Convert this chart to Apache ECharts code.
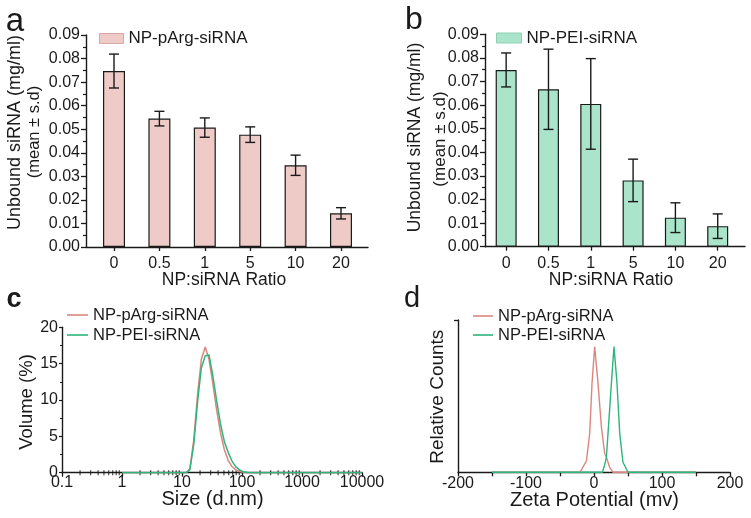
<!DOCTYPE html>
<html><head><meta charset="utf-8">
<script src="https://cdn.jsdelivr.net/npm/echarts@6/dist/echarts.min.js"></script>
<style>html,body{margin:0;padding:0;background:#fff}#c{width:751px;height:518px}</style>
</head><body><div id="c"></div>
<script>
// ---- data ----
const ratioLabels = ['0', '0.5', '1', '5', '10', '20'];
const argMean = [0.0747, 0.0545, 0.0507, 0.0477, 0.0347, 0.0143];
const argSd   = [0.0072, 0.0031, 0.0041, 0.0033, 0.0043, 0.0024];
const peiMean = [0.0749, 0.0667, 0.0605, 0.0281, 0.0123, 0.0087];
const peiSd   = [0.0072, 0.0170, 0.0192, 0.0090, 0.0063, 0.0052];

const sizeNm = [1, 10.1, 11.7, 13.5, 15.7, 18.2, 21.0, 24.4, 28.2, 32.7, 37.8, 43.8, 50.7, 58.8, 68.1, 78.8, 91.3, 105.7, 122.4, 141.8, 164.2, 10000];
const volArg = [0, 0, 0, 0.5, 4.5, 10.8, 15.6, 17.3, 15.6, 12.2, 8.6, 5.5, 3.2, 1.7, 0.85, 0.38, 0.15, 0.05, 0, 0, 0, 0];
const volPEI = [0, 0, 0, 0.4, 3.9, 9.8, 14.4, 16.1, 16.2, 13.3, 9.9, 6.7, 4.3, 2.8, 1.6, 0.8, 0.38, 0.12, 0.03, 0, 0, 0];
const sizeMinorTicks = [0.2,0.3,0.4,0.5,0.6,0.7,0.8,0.9, 2,3,4,5,6,7,8,9, 20,30,40,50,60,70,80,90, 200,300,400,500,600,700,800,900, 2000,3000,4000,5000,6000,7000,8000,9000];
const sizeTickLabels = ['0.1','1','10','100','1000','10000'];

const zetaArg   = [-150, -21, -18.5, -11.2, -6.3, -2.9, 1, 5.9, 10.9, 15.7, 18.2, 23, 28, 150];
const countArg  = [0, 0, 0.02, 0.09, 0.31, 0.71, 1.0, 0.71, 0.36, 0.15, 0.12, 0.04, 0, 0];
const zetaPEI   = [-150, 12.4, 15.7, 18.2, 20.6, 25.6, 29.4, 33.8, 37.8, 42.6, 50, 150];
const countPEI  = [0, 0, 0.06, 0.12, 0.31, 0.71, 1.0, 0.71, 0.31, 0.08, 0, 0];

const FONT = 'Liberation Sans, Arial, sans-serif';
const INK = '#1a1a1a';
const PINK = '#EECBC6', MINT = '#A9E4CB';
const RED = '#D9877E', GREEN = '#2DB57B';

const chart = echarts.init(document.getElementById('c'), null, {renderer: 'canvas'});

function errSeries(name, xi, yi, mean, sd) {
  return {
    type: 'custom', name: name + ' err', xAxisIndex: xi, yAxisIndex: yi, z: 5, silent: true,
    data: mean.map((m, i) => [i, m - sd[i], m + sd[i]]),
    encode: {x: 0, y: [1, 2]},
    renderItem: function (params, api) {
      const x = api.value(0);
      const lo = api.coord([x, api.value(1)]);
      const hi = api.coord([x, api.value(2)]);
      const w = 5;
      const st = {stroke: INK, lineWidth: 1.4};
      return {type: 'group', children: [
        {type: 'line', shape: {x1: hi[0], y1: hi[1], x2: lo[0], y2: lo[1]}, style: st},
        {type: 'line', shape: {x1: hi[0] - w, y1: hi[1], x2: hi[0] + w, y2: hi[1]}, style: st},
        {type: 'line', shape: {x1: lo[0] - w, y1: lo[1], x2: lo[0] + w, y2: lo[1]}, style: st}
      ]};
    }
  };
}

const axisLineStyle = {show: true, onZero: false, lineStyle: {color: INK, width: 1.4}};
const lbl = {color: INK, fontSize: 16, fontFamily: FONT};

function barX(min, max) {
  return {
    type: 'value', min: min, max: max, splitLine: {show: false},
    axisLine: axisLineStyle,
    axisTick: {show: true, customValues: [0,1,2,3,4,5], length: 4, lineStyle: {color: INK, width: 1.3}},
    axisLabel: Object.assign({}, lbl, {customValues: [0,1,2,3,4,5], margin: 9,
      formatter: v => ratioLabels[Math.round(v)]})
  };
}
function barY() {
  return {
    type: 'value', min: 0, max: 0.09, interval: 0.01, splitLine: {show: false},
    axisLine: axisLineStyle,
    axisTick: {show: true, length: 5, lineStyle: {color: INK, width: 1.3}},
    minorTick: {show: true, splitNumber: 2, length: 3, lineStyle: {color: INK, width: 1.2}},
    axisLabel: Object.assign({}, lbl, {margin: 6, formatter: v => v.toFixed(2)})
  };
}

function txt(text, x, y, size, rot, weight) {
  return {type: 'text', x: x, y: y, rotation: rot || 0, silent: true,
    style: {text: text, fontSize: size, fontFamily: FONT, fontWeight: weight || 'normal', fill: INK,
      align: 'center', verticalAlign: 'middle'}};
}

const option = {
  animation: false,
  backgroundColor: '#fff',
  grid: [
    {left: 86, top: 35, width: 282, height: 212},
    {left: 485, top: 34.3, width: 260, height: 212.4},
    {left: 62, top: 327.3, width: 300, height: 145.4},
    {left: 458, top: 320, width: 272, height: 152.3}
  ],
  xAxis: [
    Object.assign(barX(-0.617, 5.595), {gridIndex: 0}),
    Object.assign(barX(-0.5, 5.645), {gridIndex: 1}),
    {gridIndex: 2, type: 'log', logBase: 10, min: 0.1, max: 10000, splitLine: {show: false},
      axisLine: axisLineStyle,
      axisTick: {show: true, length: 4, lineStyle: {color: INK, width: 1.3}},
      axisLabel: Object.assign({}, lbl, {margin: 2, formatter: v => {
        const i = Math.round(Math.log10(v)) + 1; return sizeTickLabels[i] || ''; }})},
    {gridIndex: 3, type: 'value', min: -200, max: 200, interval: 50, splitLine: {show: false},
      axisLine: axisLineStyle,
      axisTick: {show: true, length: 4, lineStyle: {color: INK, width: 1.3}},
      axisLabel: Object.assign({}, lbl, {margin: 3, formatter: v => (v % 100 === 0 ? String(v) : '')})}
  ],
  yAxis: [
    Object.assign(barY(), {gridIndex: 0}),
    Object.assign(barY(), {gridIndex: 1}),
    {gridIndex: 2, type: 'value', min: 0, max: 20, interval: 5, splitLine: {show: false},
      axisLine: axisLineStyle,
      axisTick: {show: true, length: 3, lineStyle: {color: INK, width: 1.2}},
      minorTick: {show: true, splitNumber: 2, length: 2, lineStyle: {color: INK, width: 1.1}},
      axisLabel: Object.assign({}, lbl, {margin: 4})},
    {gridIndex: 3, type: 'value', min: 0, max: 1.212, splitLine: {show: false},
      axisLine: axisLineStyle,
      axisTick: {show: true, customValues: [1.212], length: 4, lineStyle: {color: INK, width: 1.3}},
      axisLabel: {show: false}}
  ],
  legend: [
    {left: 99, top: 30, itemWidth: 24, itemHeight: 10, padding: 0,
      textStyle: {fontSize: 17, fontFamily: FONT, color: INK},
      data: [{name: 'NP-pArg-siRNA', icon: 'rect', itemStyle: {color: PINK, borderColor: '#D9A8A2', borderWidth: 1}}]},
    {left: 496, top: 29.5, itemWidth: 25, itemHeight: 10, padding: 0,
      textStyle: {fontSize: 17, fontFamily: FONT, color: INK},
      data: [{name: 'NP-PEI-siRNA', icon: 'rect', itemStyle: {color: MINT, borderColor: '#8FCFB2', borderWidth: 1}}]},
    {left: 67, top: 306.5, orient: 'vertical', itemWidth: 21, itemHeight: 1.6, itemGap: 3, padding: 0,
      textStyle: {fontSize: 16.5, fontFamily: FONT, color: INK, lineHeight: 17},
      data: [{name: 'NP-pArg-siRNA', icon: 'rect', itemStyle: {color: RED, borderWidth: 0}},
             {name: 'NP-PEI-siRNA', icon: 'rect', itemStyle: {color: GREEN, borderWidth: 0}}]},
    {left: 473, top: 307.5, orient: 'vertical', itemWidth: 20, itemHeight: 1.6, itemGap: 2, padding: 0,
      textStyle: {fontSize: 16.5, fontFamily: FONT, color: INK, lineHeight: 17},
      data: [{name: 'NP-pArg-siRNA', icon: 'rect', itemStyle: {color: RED, borderWidth: 0}},
             {name: 'NP-PEI-siRNA', icon: 'rect', itemStyle: {color: GREEN, borderWidth: 0}}]}
  ],
  series: [
    {type: 'bar', name: 'NP-pArg-siRNA', xAxisIndex: 0, yAxisIndex: 0, barWidth: 22,
      itemStyle: {color: PINK, borderColor: INK, borderWidth: 1.2},
      data: argMean.map((v, i) => [i, v])},
    errSeries('NP-pArg-siRNA', 0, 0, argMean, argSd),
    {type: 'bar', name: 'NP-PEI-siRNA', xAxisIndex: 1, yAxisIndex: 1, barWidth: 21,
      itemStyle: {color: MINT, borderColor: INK, borderWidth: 1.2},
      data: peiMean.map((v, i) => [i, v])},
    errSeries('NP-PEI-siRNA', 1, 1, peiMean, peiSd),
    {type: 'scatter', name: 'minor ticks', xAxisIndex: 2, yAxisIndex: 2, silent: true, z: 1,
      symbol: 'rect', symbolSize: [1.2, 5], itemStyle: {color: INK},
      data: sizeMinorTicks.map(v => [v, 0])},
    {type: 'line', name: 'NP-pArg-siRNA', xAxisIndex: 2, yAxisIndex: 2, showSymbol: false, symbol: 'none',
      lineStyle: {color: RED, width: 1.5}, z: 3,
      data: sizeNm.map((s, i) => [s, volArg[i]])},
    {type: 'line', name: 'NP-PEI-siRNA', xAxisIndex: 2, yAxisIndex: 2, showSymbol: false, symbol: 'none',
      lineStyle: {color: GREEN, width: 1.5}, z: 4,
      data: sizeNm.map((s, i) => [s, volPEI[i]])},
    {type: 'line', name: 'NP-pArg-siRNA', xAxisIndex: 3, yAxisIndex: 3, showSymbol: false, symbol: 'none',
      lineStyle: {color: RED, width: 1.4}, z: 3,
      data: zetaArg.map((z, i) => [z, countArg[i]])},
    {type: 'line', name: 'NP-PEI-siRNA', xAxisIndex: 3, yAxisIndex: 3, showSymbol: false, symbol: 'none',
      lineStyle: {color: GREEN, width: 1.4}, z: 4,
      data: zetaPEI.map((z, i) => [z, countPEI[i]])}
  ],
  graphic: [
    txt('a', 15, 22, 33),
    txt('b', 414, 20, 32),
    txt('c', 14, 300, 27, 0, 'bold'),
    txt('d', 412, 299, 29),
    txt('Unbound siRNA (mg/ml)', 15, 132.5, 18, Math.PI / 2),
    txt('(mean ± s.d)', 34, 132, 16.5, Math.PI / 2),
    txt('Unbound siRNA (mg/ml)', 415.5, 137.5, 17.5, Math.PI / 2),
    txt('(mean ± s.d)', 440, 139, 17, Math.PI / 2),
    txt('NP:siRNA Ratio', 224, 280, 17.5),
    txt('NP:siRNA Ratio', 611, 280, 17.5),
    txt('Volume (%)', 27, 402, 18.5, Math.PI / 2),
    txt('Size (d.nm)', 212.5, 499.7, 20),
    txt('Relative Counts', 438, 396.7, 19, Math.PI / 2),
    txt('Zeta Potential (mv)', 594.5, 500.7, 20)
  ]
};
chart.setOption(option);
</script>
</body></html>
